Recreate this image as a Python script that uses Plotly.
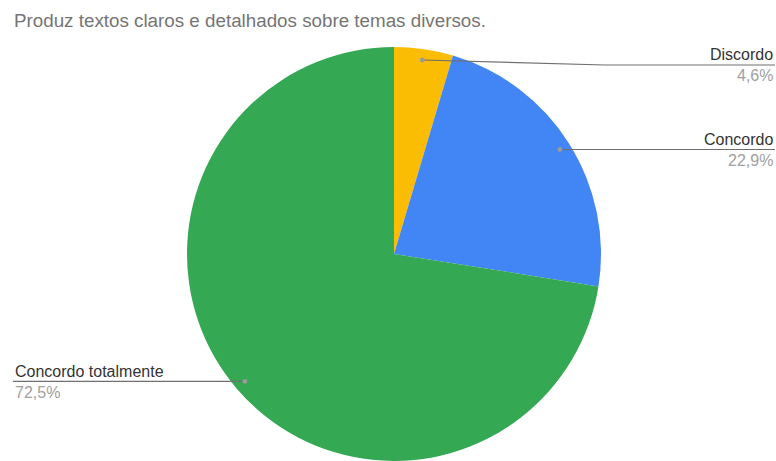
import math
import plotly.graph_objects as go

# Survey answers and their shares (%)
labels = ["Discordo", "Concordo", "Concordo totalmente"]
shares = [4.6, 22.9, 72.5]
colors = ["#fbbc04", "#4285f4", "#34a853"]
title = "Produz textos claros e detalhados sobre temas diversos."

W, H = 776, 461
# pie box in pixels (left, right, top, bottom)
px_l, px_r, px_t, px_b = 187, 601, 47, 461
cx = (px_l + px_r) / 2
cy = (px_t + px_b) / 2
r = min(px_r - px_l, px_b - px_t) / 2


def to_paper(x, y):
    return x / W, 1 - y / H


fig = go.Figure(go.Pie(
    labels=labels,
    values=shares,
    sort=False,
    direction="clockwise",
    rotation=0,
    marker=dict(colors=colors, line=dict(width=0)),
    textinfo="none",
    hoverinfo="label+percent",
    showlegend=False,
    domain=dict(x=[px_l / W, px_r / W], y=[0, 1 - px_t / H]),
))

# leader dots at each slice's mid-angle
total = sum(shares)
dots = []
acc = 0
for v in shares:
    mid = (acc + v / 2) / total * 2 * math.pi
    acc += v
    rd = 0.947 * r
    dots.append((cx + rd * math.sin(mid), cy - rd * math.cos(mid)))

shapes = []
annotations = []
line_col = "#6f6f6f"
dot_col = "#9a9a9a"
font_fam = "Arial, Liberation Sans, sans-serif"
label_font = dict(family=font_fam, size=16, color="#333333")
pct_font = dict(family=font_fam, size=16, color="#a0a0a0")

# label layout: (line y, side)
layout_spec = [(65, "right"), (None, "right"), (None, "left")]
for (dx, dy), lab, v, (ly, side) in zip(dots, labels, shares, layout_spec):
    if ly is None:
        ly = dy
    pct = f"{v:.1f}%".replace(".", ",")
    if side == "right":
        xe = 775
        pts = [(dx, dy), (dx + (xe - dx) * 0.95 if ly == dy else 605, ly), (xe, ly)]
        xanchor = "right"
        xt = xe
    else:
        xe = 13
        pts = [(dx, dy), (xe, ly)]
        xanchor = "left"
        xt = xe
    path = "M " + " L ".join(f"{to_paper(x, y)[0]:.5f},{to_paper(x, y)[1]:.5f}" for x, y in pts)
    shapes.append(dict(type="path", xref="paper", yref="paper", path=path,
                       line=dict(color=line_col, width=1.2)))
    ddx, ddy = to_paper(dx, dy)
    shapes.append(dict(type="circle", xref="paper", yref="paper",
                       x0=ddx - 2.4 / W, x1=ddx + 2.4 / W, y0=ddy - 2.4 / H, y1=ddy + 2.4 / H,
                       fillcolor=dot_col, line=dict(width=0)))
    ax, ay = to_paper(xt, ly - 10)
    annotations.append(dict(x=ax, y=ay, xref="paper", yref="paper", text=lab,
                            showarrow=False, xanchor=xanchor, yanchor="middle",
                            font=label_font))
    ax, ay = to_paper(xt, ly + 11)
    annotations.append(dict(x=ax, y=ay, xref="paper", yref="paper", text=pct,
                            showarrow=False, xanchor=xanchor, yanchor="middle",
                            font=pct_font))

tx, ty = to_paper(12, 21)
annotations.append(dict(x=tx, y=ty, xref="paper", yref="paper", text=title,
                        showarrow=False, xanchor="left", yanchor="middle",
                        font=dict(family=font_fam, size=18.8, color="#757575")))

fig.update_layout(
    width=W, height=H,
    margin=dict(l=0, r=0, t=0, b=0),
    paper_bgcolor="white",
    plot_bgcolor="white",
    shapes=shapes,
    annotations=annotations,
)

fig.write_html("out.html")
